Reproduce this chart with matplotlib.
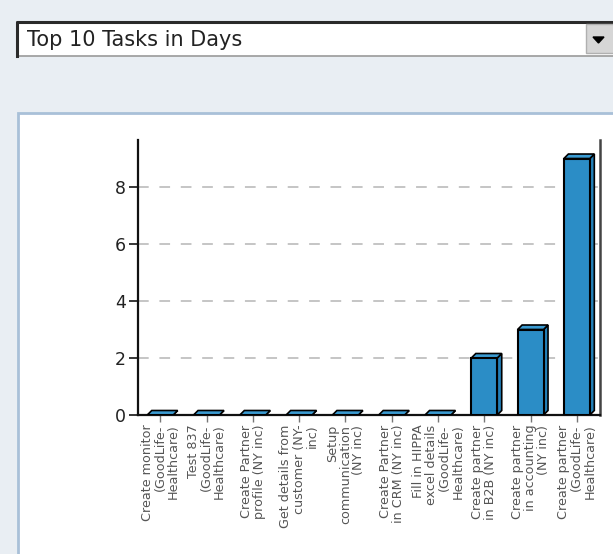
import matplotlib
matplotlib.use("Agg")
import matplotlib.pyplot as plt
from matplotlib.patches import Rectangle, Polygon

W, H = 613, 554

tasks = [
    "Create monitor\n(GoodLife-\nHealthcare)",
    "Test 837\n(GoodLife-\nHealthcare)",
    "Create Partner\nprofile (NY inc)",
    "Get details from\ncustomer (NY-\ninc)",
    "Setup\ncommunication\n(NY inc)",
    "Create Partner\nin CRM (NY inc)",
    "Fill in HIPPA\nexcel details\n(GoodLife-\nHealthcare)",
    "Create partner\nin B2B (NY inc)",
    "Create partner\nin accounting\n(NY inc)",
    "Create partner\n(GoodLife-\nHealthcare)",
]
days = [0, 0, 0, 0, 0, 0, 0, 2, 3, 9]
yticks = [0, 2, 4, 6, 8]

FRONT = "#2b8dc6"
SIDE = "#2380b8"
TOP = "#3b9bd2"

plt.rcParams["font.family"] = "DejaVu Sans"

fig = plt.figure(figsize=(W / 100, H / 100), dpi=100)
fig.patch.set_facecolor("#e9eef3")


def px(x, y):
    return x / W, 1 - y / H


# dropdown box
x0, y0 = px(17, 56)
fig.add_artist(Rectangle((x0, y0), 1.0, 34 / H, transform=fig.transFigure,
                         facecolor="white", edgecolor="#9a9a9a", lw=1.2, zorder=-2))
fig.add_artist(plt.Line2D([17 / W, 17 / W, 1.0], [1 - 56 / H, 1 - 22 / H, 1 - 22 / H],
                          transform=fig.transFigure, color="#2a2a2a", lw=2.2, zorder=-1))
bx, by = px(586, 53)
fig.add_artist(Rectangle((bx, by), 30 / W, 29 / H, transform=fig.transFigure,
                         facecolor="#d6d6d6", edgecolor="#b0b0b0", lw=1, zorder=-1))
fig.add_artist(Polygon([px(593, 37), px(604, 37), px(598.5, 43)], closed=True,
                       transform=fig.transFigure, facecolor="black", edgecolor="black",
                       zorder=-1))
fig.text(27 / W, 1 - 40 / H, "Top 10 Tasks in Days", fontsize=15, color="#222222",
         va="center", ha="left")

# chart panel
p0 = px(18, 620)
fig.add_artist(Rectangle(p0, 1.0, (620 - 113) / H, transform=fig.transFigure,
                         facecolor="white", edgecolor="#a9c0d8", lw=2, zorder=-2))

ax = fig.add_axes([138 / W, (H - 415) / H, (600 - 138) / W, (415 - 140) / H])
ax.set_facecolor("none")
ax.set_xlim(-0.48, 9.5)
ax.set_ylim(0, 9.65)

# 3D depth of ~4.5 px, in data units
dx = 4.5 / (462 / (9.5 + 0.48))
dy = 4.5 / (275 / 9.65)
w = 0.56
for i, v in enumerate(days):
    l, r = i - w / 2, i + w / 2
    ax.add_patch(Polygon([(r, 0), (r + dx, dy), (r + dx, v + dy), (r, v)], closed=True,
                         facecolor=SIDE, edgecolor="black", lw=1.2, zorder=3))
    ax.add_patch(Polygon([(l, v), (l + dx, v + dy), (r + dx, v + dy), (r, v)], closed=True,
                         facecolor=TOP, edgecolor="black", lw=1.2, zorder=3))
    ax.add_patch(Rectangle((l, 0), w, v, facecolor=FRONT, edgecolor="black", lw=1.5, zorder=3))

for t in yticks[1:]:
    ax.axhline(t, color="#b5b5b5", lw=1.1, dashes=(7, 7), zorder=1)

ax.set_yticks(yticks)
ax.set_xticks(range(len(tasks)))
ax.set_xticklabels(tasks, rotation=90, ha="center", va="top", multialignment="right",
                   fontsize=9.2, color="#555555", linespacing=1.02)
ax.tick_params(axis="y", direction="out", length=6.5, width=1.1, labelsize=12.5,
               labelcolor="#222222", pad=2)
ax.tick_params(axis="x", direction="out", length=5, width=1, color="#777777", pad=2)

ax.spines["top"].set_visible(False)
for s in ("left", "bottom"):
    ax.spines[s].set_linewidth(1.6)
    ax.spines[s].set_color("#111111")
ax.spines["right"].set_linewidth(1.8)
ax.spines["right"].set_color("#444444")

fig.savefig("out.png", dpi=100, facecolor=fig.get_facecolor())
